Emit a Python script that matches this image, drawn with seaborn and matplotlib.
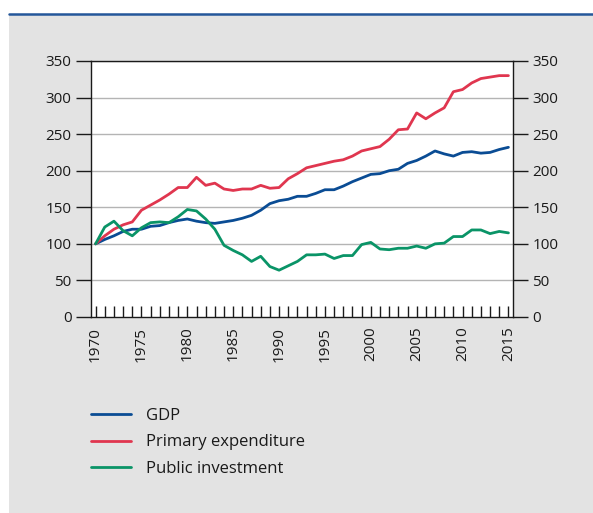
import seaborn as sns
import matplotlib.pyplot as plt
import pandas as pd
from matplotlib.patches import Rectangle
from matplotlib.lines import Line2D

# Index values, 1970 = 100
years = list(range(1970, 2016))
gdp = [100, 106, 111, 117, 120, 120, 124, 125, 129, 132, 134, 131,
       129, 128, 130, 132, 135, 139, 146, 155, 159, 161, 165,
       165, 169, 174, 174, 179, 185, 190, 195, 196, 200, 202,
       210, 214, 220, 227, 223, 220, 225, 226, 224, 225, 229, 232]
primary = [100, 111, 120, 126, 130, 146, 153, 160, 168, 177, 177, 191,
           180, 183, 175, 173, 175, 175, 180, 176, 177, 189, 196,
           204, 207, 210, 213, 215, 220, 227, 230, 233, 243, 256,
           257, 279, 271, 279, 286, 308, 311, 320, 326, 328, 330, 330]
investment = [100, 123, 131, 118, 111, 122, 129, 130, 129, 137, 147, 145,
              134, 120, 98, 91, 85, 76, 83, 69, 64, 70, 76,
              85, 85, 86, 80, 84, 84, 99, 102, 93, 92, 94,
              94, 97, 94, 100, 101, 110, 110, 119, 119, 114, 117, 115]
series_names = ["GDP", "Primary expenditure", "Public investment"]
colors = ["#0a4c94", "#e0364f", "#0a9467"]

df = pd.DataFrame({
    "year": years * 3,
    "value": gdp + primary + investment,
    "series": sum([[n] * len(years) for n in series_names], []),
})

sns.set_style("white")
plt.rcParams["font.family"] = ["Open Sans", "DejaVu Sans"]

fig = plt.figure(figsize=(5.93, 5.13), dpi=100)
fig.patch.set_facecolor("white")
# grey panel and blue rule on top
fig.patches.append(Rectangle((9 / 593, 0), 1, 1 - 15 / 513, transform=fig.transFigure,
                             facecolor="#e3e3e3", edgecolor="none", zorder=-10))
fig.lines.append(Line2D([9 / 593, 1], [1 - 13.5 / 513] * 2, transform=fig.transFigure,
                        color="#24579a", lw=1.8, zorder=-5))

ax = fig.add_axes([91 / 593, 1 - 317 / 513, (513 - 91) / 593, (317 - 61) / 513])
ax.set_facecolor("white")
sns.lineplot(data=df, x="year", y="value", hue="series", palette=colors,
             linewidth=2.0, ax=ax, legend=False)

ax.set_xlim(1969.5, 2015.5)
ax.set_ylim(0, 350)
ax.set_yticks(range(0, 351, 50))
ax.set_xticks(range(1970, 2016))
ax.set_xticklabels([str(y) if y % 5 == 0 else "" for y in range(1970, 2016)],
                   rotation=90)
ax.set_xlabel("")
ax.set_ylabel("")
for y in range(50, 351, 50):
    ax.axhline(y, color="#b4b4b4", lw=1.0, zorder=0)
for s in ax.spines.values():
    s.set_color("#1a1a1a")
    s.set_linewidth(1.0)
ax.tick_params(axis="x", direction="in", length=8, width=1, color="#1a1a1a",
               labelsize=11, labelcolor="#1a1a1a", pad=7, bottom=True)
ax.tick_params(axis="y", direction="out", length=11, width=1, color="#1a1a1a",
               labelsize=11, labelcolor="#1a1a1a", pad=3,
               left=True, right=True, labelright=True)

handles = [Line2D([], [], color=c, lw=2.0) for c in colors]
fig.legend(handles, series_names, loc="upper left",
           bbox_to_anchor=(76 / 593, 1 - 393 / 513), frameon=False,
           fontsize=12, handlelength=2.4, handletextpad=0.9, labelspacing=0.62,
           labelcolor="#1a1a1a")

fig.savefig("out.png", dpi=100)
